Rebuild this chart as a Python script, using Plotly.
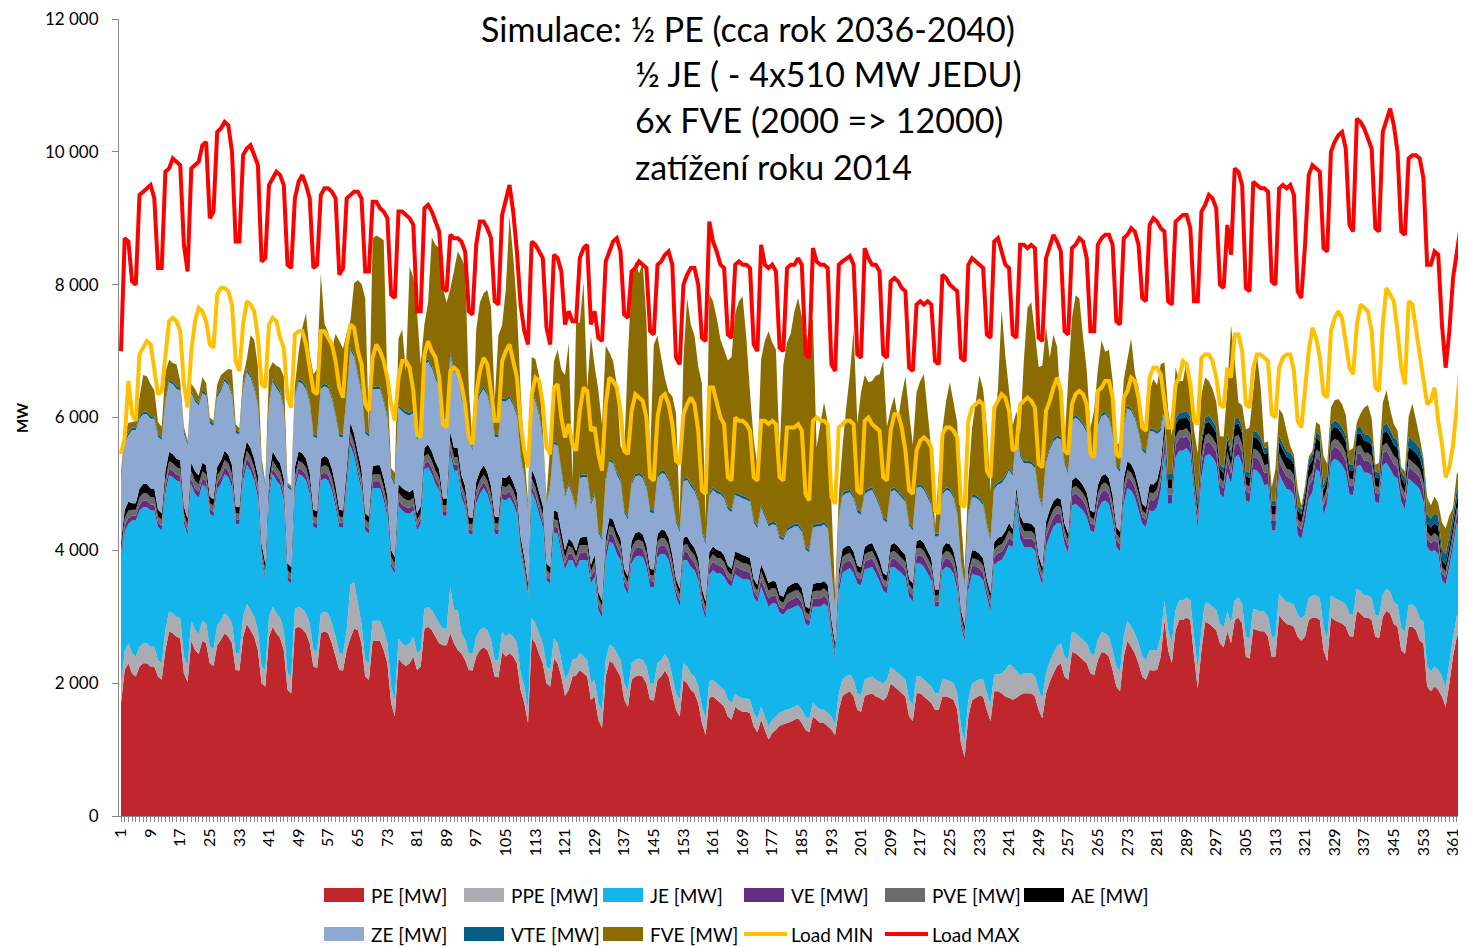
import plotly.graph_objects as go

days = list(range(1, 366))

# --- daily values (MW), one calendar week per row (Mon..Sun) ---
pe = [
    1700, 2200, 2300, 2150, 2100,
    2250, 2300, 2300, 2250, 2250, 2100, 2050,
    2500, 2780, 2750, 2700, 2680, 2150, 2020,
    2640, 2500, 2440, 2640, 2600, 2300, 2260,
    2570, 2650, 2750, 2700, 2600, 2200, 2190,
    2700, 2890, 2800, 2700, 2500, 2000, 1950,
    2700, 2850, 2750, 2680, 2500, 1900, 1850,
    2820, 2850, 2820, 2750, 2600, 2250, 2230,
    2750, 2780, 2750, 2600, 2400, 2200, 2190,
    2500, 2680, 2820, 2800, 2600, 2100, 2050,
    2640, 2640, 2640, 2500, 2300, 1700, 1500,
    2370, 2300, 2260, 2300, 2400, 2200, 2250,
    2820, 2850, 2800, 2700, 2600, 2570, 2570,
    2750, 2600, 2500, 2450, 2350, 2200, 2190,
    2400, 2500, 2540, 2500, 2350, 2100, 2090,
    2470, 2400, 2450, 2400, 2300, 1900, 1700,
    1400, 2680, 2600, 2440, 2300, 2000, 1950,
    2370, 2300, 2100, 1810, 1900, 2100, 2120,
    2200, 2150, 2100, 1750, 1800, 1450, 1330,
    2100, 2330, 2300, 2200, 2100, 1750, 1640,
    2050, 2100, 2120, 2100, 2000, 1750, 1740,
    2050, 2100, 2190, 2100, 1850, 1600, 1500,
    2050, 2000, 1900, 1850, 1700, 1400, 1220,
    1780, 1800, 1750, 1700, 1650, 1500, 1450,
    1640, 1600, 1570, 1570, 1550, 1350, 1260,
    1450, 1300, 1150, 1250, 1300, 1360, 1380,
    1400, 1420, 1450, 1470, 1400, 1300, 1260,
    1500, 1450, 1400, 1400, 1350, 1300, 1220,
    1600, 1810, 1850, 1880, 1800, 1600, 1570,
    1810, 1830, 1850, 1800, 1780, 1740, 1800,
    1990, 1950, 1900, 1850, 1800, 1500, 1430,
    1850, 1850, 1800, 1750, 1700, 1600, 1600,
    1800, 1800, 1780, 1750, 1600, 1100, 880,
    1500, 1740, 1780, 1810, 1800, 1600, 1430,
    1880, 1880, 1850, 1800, 1780, 1750, 1780,
    1820, 1850, 1850, 1850, 1800, 1600, 1470,
    1850, 2020, 2150, 2260, 2300, 2100, 2050,
    2470, 2450, 2400, 2350, 2300, 2150, 2120,
    2350, 2470, 2450, 2400, 2200, 1950, 1880,
    2400, 2640, 2550, 2450, 2300, 2100, 2050,
    2200, 2190, 2200, 2400, 2950, 2500, 2300,
    2800, 2950, 2950, 2990, 2950, 2400, 1920,
    2500, 2920, 2900, 2850, 2800, 2600, 2540,
    2780, 2600, 2950, 2990, 2900, 2400, 2370,
    2820, 2800, 2780, 2780, 2700, 2400, 2400,
    3020, 2950, 2890, 2880, 2850, 2700, 2640,
    2700, 2950, 2990, 2990, 2950, 2500, 2330,
    2990, 2950, 2920, 2900, 2850, 2710, 2700,
    3090, 3050, 2990, 2990, 2950, 2700, 2680,
    3000, 3090, 3050, 2890, 2850, 2500, 2440,
    2850, 2850, 2800, 2640, 2600, 1950, 1880,
    1950, 1900, 1800, 1640, 2000, 2400, 2700,
    2820, 2900, 2950,
]

ppe = [
    250, 280, 300, 300, 300,
    300, 300, 300, 300, 300, 250, 250,
    300, 300, 300, 300, 300, 250, 250,
    300, 300, 300, 300, 300, 250, 250,
    300, 300, 300, 300, 300, 250, 250,
    300, 300, 300, 300, 300, 250, 250,
    300, 300, 300, 300, 300, 250, 250,
    300, 300, 300, 300, 300, 250, 250,
    300, 300, 300, 300, 300, 250, 250,
    300, 800, 700, 400, 300, 250, 250,
    300, 300, 300, 300, 300, 250, 250,
    300, 300, 300, 300, 300, 250, 250,
    300, 300, 300, 300, 300, 250, 250,
    700, 500, 600, 300, 300, 250, 250,
    300, 300, 300, 300, 300, 250, 250,
    300, 300, 300, 300, 300, 250, 250,
    200, 300, 300, 300, 300, 250, 250,
    300, 300, 250, 250, 250, 250, 250,
    250, 250, 250, 250, 250, 250, 250,
    250, 250, 250, 250, 250, 250, 250,
    250, 250, 250, 250, 250, 250, 250,
    250, 250, 250, 250, 250, 250, 250,
    250, 250, 250, 250, 250, 250, 250,
    250, 250, 250, 250, 250, 250, 250,
    200, 200, 200, 200, 200, 200, 200,
    200, 200, 200, 200, 200, 200, 200,
    200, 200, 200, 200, 200, 200, 200,
    200, 200, 200, 200, 200, 200, 150,
    250, 250, 250, 250, 250, 250, 250,
    250, 250, 250, 250, 250, 250, 250,
    250, 250, 250, 250, 250, 250, 250,
    250, 250, 250, 250, 250, 250, 250,
    250, 250, 250, 250, 250, 250, 250,
    250, 250, 250, 250, 250, 250, 250,
    250, 250, 300, 400, 500, 500, 400,
    300, 300, 300, 300, 300, 300, 300,
    300, 300, 300, 300, 300, 300, 300,
    300, 300, 300, 300, 300, 300, 300,
    300, 300, 300, 300, 300, 300, 300,
    300, 300, 300, 300, 300, 300, 300,
    300, 300, 300, 300, 300, 300, 300,
    300, 300, 300, 300, 300, 300, 300,
    300, 300, 300, 300, 300, 300, 300,
    300, 300, 300, 300, 300, 300, 300,
    300, 300, 300, 300, 300, 300, 300,
    330, 330, 330, 330, 330, 330, 330,
    330, 330, 330, 330, 330, 330, 330,
    330, 330, 330, 330, 330, 330, 330,
    330, 330, 330, 330, 330, 330, 330,
    330, 330, 330, 330, 330, 330, 330,
    330, 330, 330, 330, 330, 300, 300,
    300, 300, 300, 300, 300, 300, 300,
    300, 300, 300,
]

je = [
    1900, 1800, 1800, 2000, 2050,
    2050, 2050, 2050, 2050, 2050, 2000, 2000,
    2050, 2050, 2050, 2050, 2050, 2000, 1950,
    2050, 2050, 2050, 2050, 2050, 2000, 2000,
    2050, 2050, 2100, 2100, 2050, 1950, 1950,
    2050, 2100, 2100, 2050, 2000, 1600, 1350,
    1800, 2000, 2000, 2000, 1950, 1400, 1400,
    1800, 2000, 2000, 2000, 1950, 1850, 1850,
    2000, 2000, 2000, 2000, 1950, 1900, 1900,
    2100, 2100, 1900, 1950, 2000, 1950, 1950,
    2000, 2000, 2000, 1950, 1900, 1800, 1900,
    2000, 2000, 2000, 1950, 1900, 1850, 1900,
    2100, 2100, 2050, 2000, 2000, 1700, 1700,
    2000, 2100, 2100, 2050, 2000, 1800, 1800,
    2000, 2050, 2100, 2050, 2000, 1900, 1900,
    2000, 2050, 2050, 2000, 1950, 1800, 1700,
    1650, 1900, 1850, 1800, 1750, 1300, 1300,
    1600, 1650, 1600, 1650, 1700, 1500, 1350,
    1400, 1450, 1500, 1500, 1550, 1400, 1400,
    1500, 1550, 1550, 1500, 1500, 1450, 1450,
    1500, 1550, 1550, 1550, 1500, 1450, 1450,
    1600, 1600, 1500, 1500, 1500, 1450, 1400,
    1550, 1600, 1600, 1600, 1600, 1500, 1500,
    1600, 1650, 1650, 1700, 1700, 1750, 1750,
    1800, 1800, 1800, 1800, 1800, 1750, 1750,
    1800, 1800, 1800, 1750, 1700, 1500, 1450,
    1500, 1500, 1500, 1500, 1500, 1400, 1400,
    1450, 1500, 1550, 1600, 1600, 1200, 1000,
    1500, 1600, 1600, 1600, 1600, 1650, 1650,
    1650, 1650, 1650, 1600, 1500, 1400, 1300,
    1500, 1550, 1550, 1550, 1550, 1550, 1550,
    1700, 1700, 1700, 1650, 1600, 1300, 1300,
    1650, 1700, 1700, 1650, 1550, 1500, 1500,
    1650, 1650, 1600, 1550, 1500, 1450, 1400,
    1650, 1700, 1700, 1750, 1800, 1800, 2500,
    2050, 1900, 1900, 1900, 1900, 1750, 1700,
    1900, 1900, 1900, 1850, 1800, 1700, 1600,
    1900, 1950, 1950, 1950, 1900, 1850, 1850,
    1950, 1950, 2000, 2000, 1950, 1800, 1800,
    2000, 2000, 2050, 2050, 2000, 2000, 2000,
    2100, 2100, 2150, 2200, 2200, 1900, 2100,
    2300, 2250, 2250, 2250, 2200, 2150, 2100,
    2300, 2200, 2250, 2250, 2200, 1950, 1950,
    2100, 2100, 2150, 2150, 2100, 2050, 2050,
    2100, 2100, 2050, 1900, 2000, 1600, 1600,
    1800, 1750, 1700, 1700, 1650, 1200, 1200,
    1400, 1500, 1550, 1900, 1900, 1700, 2050,
    2000, 2100, 2100, 2050, 2000, 1800, 1800,
    1850, 1900, 1850, 1850, 1850, 1700, 1700,
    1950, 1900, 1850, 1900, 1900, 1900, 1850,
    1900, 1850, 1850, 1950, 1800, 1800, 1800,
    1750, 1750, 1450, 1550, 1450, 1350, 1400,
    1300, 1250, 1300,
]

ve = [
    70, 90, 90, 70, 70,
    90, 100, 100, 90, 90, 70, 70,
    100, 100, 100, 90, 90, 70, 70,
    90, 90, 90, 90, 90, 70, 70,
    100, 100, 100, 100, 90, 70, 70,
    90, 100, 100, 90, 90, 60, 60,
    90, 90, 90, 90, 90, 60, 60,
    90, 90, 90, 90, 80, 70, 70,
    90, 90, 90, 90, 80, 70, 70,
    90, 90, 90, 90, 80, 70, 70,
    90, 90, 90, 90, 80, 60, 60,
    90, 90, 90, 90, 80, 70, 70,
    90, 90, 90, 90, 80, 70, 70,
    90, 90, 90, 90, 80, 60, 60,
    90, 90, 90, 90, 80, 70, 70,
    90, 90, 90, 90, 80, 60, 60,
    60, 90, 90, 90, 80, 60, 60,
    90, 90, 90, 90, 110, 90, 90,
    120, 120, 120, 90, 110, 90, 90,
    120, 130, 130, 120, 110, 90, 90,
    120, 130, 130, 120, 110, 90, 90,
    120, 130, 130, 120, 110, 90, 90,
    120, 130, 130, 120, 110, 90, 80,
    120, 130, 130, 120, 110, 90, 90,
    120, 130, 130, 120, 110, 90, 90,
    120, 130, 130, 120, 110, 90, 90,
    120, 130, 130, 120, 110, 80, 80,
    120, 130, 130, 120, 110, 80, 70,
    120, 130, 130, 120, 110, 90, 90,
    120, 130, 130, 120, 110, 90, 90,
    120, 130, 130, 120, 110, 90, 90,
    120, 130, 130, 120, 110, 80, 80,
    120, 130, 130, 120, 110, 80, 70,
    120, 130, 130, 120, 110, 90, 90,
    120, 130, 130, 120, 110, 90, 90,
    130, 130, 130, 130, 120, 90, 90,
    150, 150, 150, 150, 140, 110, 110,
    150, 160, 160, 150, 140, 110, 110,
    150, 160, 160, 150, 140, 110, 110,
    150, 160, 160, 150, 140, 110, 110,
    160, 160, 160, 160, 180, 140, 140,
    190, 190, 190, 180, 180, 140, 130,
    190, 190, 190, 180, 180, 140, 140,
    190, 150, 190, 180, 180, 140, 140,
    190, 190, 190, 180, 180, 140, 140,
    190, 190, 190, 180, 180, 140, 140,
    150, 190, 190, 180, 180, 140, 140,
    180, 180, 180, 180, 170, 140, 140,
    180, 180, 180, 180, 170, 140, 140,
    180, 180, 180, 180, 170, 140, 140,
    180, 180, 180, 180, 170, 130, 130,
    150, 150, 110, 100, 110, 120, 130,
    150, 150, 150,
]

pve = [
    90, 110, 110, 90, 90,
    110, 110, 110, 110, 110, 90, 90,
    110, 110, 110, 110, 110, 90, 90,
    110, 110, 110, 110, 110, 90, 90,
    110, 110, 110, 110, 110, 90, 90,
    110, 110, 110, 110, 110, 90, 90,
    110, 110, 110, 110, 110, 90, 90,
    110, 110, 110, 110, 110, 90, 90,
    110, 110, 110, 110, 110, 90, 90,
    110, 110, 110, 110, 110, 90, 90,
    110, 110, 110, 110, 110, 90, 90,
    110, 110, 110, 110, 110, 90, 90,
    110, 110, 110, 110, 110, 90, 90,
    110, 110, 110, 110, 110, 90, 90,
    110, 110, 110, 110, 110, 90, 90,
    110, 110, 110, 110, 110, 90, 90,
    90, 110, 110, 110, 110, 90, 90,
    110, 110, 110, 90, 110, 90, 90,
    110, 110, 110, 90, 110, 90, 90,
    110, 110, 110, 110, 110, 90, 90,
    110, 110, 110, 110, 110, 90, 90,
    110, 110, 110, 110, 110, 90, 90,
    110, 110, 110, 110, 110, 90, 90,
    110, 110, 110, 110, 110, 90, 90,
    110, 110, 110, 110, 110, 90, 90,
    110, 110, 110, 110, 110, 90, 90,
    110, 110, 110, 110, 110, 90, 90,
    110, 110, 110, 110, 110, 90, 80,
    110, 110, 110, 110, 110, 90, 90,
    110, 110, 110, 110, 110, 90, 90,
    110, 110, 110, 110, 110, 90, 90,
    110, 110, 110, 110, 110, 90, 90,
    110, 110, 110, 110, 110, 90, 80,
    110, 110, 110, 110, 110, 90, 90,
    110, 110, 110, 110, 110, 90, 90,
    110, 110, 110, 110, 110, 90, 90,
    110, 110, 110, 110, 110, 90, 90,
    110, 110, 110, 110, 110, 90, 90,
    110, 110, 110, 110, 110, 90, 90,
    110, 110, 110, 110, 110, 90, 90,
    110, 110, 110, 110, 120, 100, 100,
    120, 120, 120, 120, 120, 100, 100,
    120, 120, 120, 120, 120, 100, 100,
    120, 110, 120, 120, 120, 100, 100,
    120, 120, 120, 120, 120, 100, 100,
    120, 120, 120, 120, 120, 100, 100,
    110, 120, 120, 120, 120, 100, 100,
    120, 120, 120, 120, 120, 100, 100,
    120, 120, 120, 120, 120, 100, 100,
    120, 120, 120, 120, 120, 100, 100,
    120, 120, 120, 120, 120, 100, 100,
    110, 110, 90, 90, 90, 100, 100,
    120, 120, 120,
]

ae = [
    100, 130, 130, 100, 100,
    130, 140, 140, 130, 130, 100, 100,
    130, 140, 140, 130, 130, 100, 100,
    130, 140, 140, 130, 130, 100, 100,
    130, 140, 140, 130, 130, 100, 100,
    130, 140, 140, 130, 130, 100, 100,
    130, 140, 140, 130, 130, 100, 100,
    130, 140, 140, 130, 130, 100, 100,
    130, 140, 140, 130, 130, 100, 100,
    130, 140, 140, 130, 130, 100, 100,
    130, 140, 140, 130, 130, 100, 100,
    130, 140, 140, 130, 130, 100, 100,
    130, 140, 140, 130, 130, 100, 100,
    130, 140, 140, 130, 130, 100, 100,
    130, 140, 140, 130, 130, 100, 100,
    130, 140, 140, 130, 130, 100, 100,
    100, 140, 140, 130, 130, 100, 100,
    130, 130, 130, 110, 110, 90, 90,
    110, 120, 120, 100, 110, 90, 90,
    110, 120, 120, 110, 110, 90, 90,
    110, 120, 120, 110, 110, 90, 90,
    110, 120, 120, 110, 110, 90, 90,
    110, 120, 120, 110, 110, 90, 90,
    110, 120, 120, 110, 110, 90, 90,
    110, 120, 120, 110, 110, 90, 90,
    110, 120, 120, 110, 110, 90, 90,
    110, 120, 120, 110, 110, 90, 90,
    110, 120, 120, 110, 110, 90, 80,
    110, 120, 120, 110, 110, 90, 90,
    110, 120, 120, 110, 110, 90, 90,
    110, 120, 120, 110, 110, 90, 90,
    110, 120, 120, 110, 110, 90, 90,
    110, 120, 120, 110, 110, 90, 80,
    110, 120, 120, 110, 110, 90, 90,
    110, 120, 120, 110, 110, 90, 90,
    110, 120, 120, 110, 110, 90, 90,
    120, 130, 130, 120, 120, 100, 100,
    120, 130, 130, 120, 120, 100, 100,
    120, 130, 130, 120, 120, 100, 100,
    120, 130, 130, 120, 120, 100, 100,
    130, 130, 130, 130, 170, 130, 130,
    180, 180, 180, 170, 170, 130, 130,
    180, 180, 180, 170, 170, 130, 130,
    180, 140, 180, 170, 170, 130, 130,
    180, 180, 180, 170, 170, 130, 130,
    180, 180, 180, 170, 170, 130, 130,
    140, 180, 180, 170, 170, 130, 130,
    180, 180, 180, 170, 170, 130, 130,
    180, 180, 180, 170, 170, 130, 130,
    180, 180, 180, 170, 170, 130, 130,
    180, 180, 180, 170, 170, 130, 130,
    150, 150, 110, 100, 110, 120, 130,
    160, 160, 160,
]

ze = [
    1000, 1000, 1000, 1100, 1100,
    1050, 1050, 1050, 1050, 1050, 1100, 1100,
    1050, 1050, 1050, 1050, 1050, 1100, 1100,
    1050, 1050, 1050, 1050, 1050, 1100, 1100,
    1050, 1050, 1050, 1050, 1050, 1100, 1100,
    1050, 1050, 1050, 1050, 1050, 1150, 1150,
    1050, 1050, 1050, 1050, 1050, 1150, 1150,
    1050, 1050, 1050, 1050, 1050, 1100, 1100,
    1050, 1050, 1050, 1050, 1050, 1100, 1100,
    1100, 1100, 1150, 1150, 1150, 1200, 1200,
    1150, 1150, 1150, 1150, 1150, 1100, 1080,
    1150, 1150, 1150, 1150, 1150, 1100, 1100,
    1250, 1250, 1250, 1250, 1250, 1200, 1200,
    1150, 1150, 1150, 1150, 1150, 1200, 1000,
    1150, 1150, 1150, 1150, 1150, 1200, 1200,
    1150, 1150, 1150, 1150, 1150, 1200, 1200,
    1100, 1150, 1150, 1150, 1000, 900, 1200,
    1000, 1000, 900, 800, 800, 700, 600,
    900, 900, 900, 900, 900, 900, 900,
    850, 850, 850, 850, 850, 850, 850,
    850, 850, 850, 850, 850, 850, 850,
    850, 850, 850, 850, 850, 850, 850,
    850, 850, 850, 850, 850, 850, 850,
    850, 850, 850, 850, 850, 850, 850,
    850, 850, 850, 850, 850, 850, 850,
    850, 850, 850, 850, 850, 850, 850,
    850, 850, 850, 850, 850, 850, 850,
    850, 850, 850, 850, 850, 700, 500,
    800, 800, 800, 800, 800, 800, 800,
    800, 800, 800, 800, 800, 800, 800,
    800, 800, 800, 800, 800, 800, 800,
    800, 800, 800, 800, 800, 800, 800,
    800, 800, 800, 800, 800, 700, 600,
    800, 800, 800, 800, 800, 800, 800,
    800, 800, 800, 800, 800, 800, 800,
    900, 900, 900, 900, 900, 900, 900,
    900, 900, 900, 900, 900, 900, 900,
    900, 900, 900, 900, 900, 900, 900,
    900, 900, 900, 900, 900, 900, 900,
    800, 800, 800, 800, 800, 800, 800,
    800, 800, 700, 500, 200, 0, 0,
    0, 0, 0, 0, 0, 0, 0,
    0, 0, 0, 0, 0, 0, 0,
    0, 0, 0, 0, 0, 0, 0,
    0, 0, 0, 0, 0, 0, 0,
    0, 0, 0, 0, 0, 0, 0,
    0, 0, 0, 0, 0, 0, 0,
    0, 0, 0, 0, 0, 0, 0,
    0, 0, 0, 0, 0, 0, 0,
    0, 0, 0, 0, 0, 0, 0,
    0, 0, 0, 0, 0, 0, 0,
    0, 0, 0, 0, 0, 0, 0,
    0, 0, 0,
]

vte = [
    40, 40, 40, 40, 40,
    40, 40, 40, 40, 40, 40, 40,
    40, 40, 40, 40, 40, 40, 40,
    40, 40, 40, 40, 40, 40, 40,
    40, 40, 40, 40, 40, 40, 40,
    40, 40, 40, 40, 40, 40, 40,
    40, 40, 40, 40, 40, 40, 40,
    40, 40, 40, 40, 40, 40, 40,
    40, 40, 40, 40, 40, 40, 40,
    40, 40, 40, 40, 40, 40, 40,
    40, 40, 40, 40, 40, 40, 40,
    40, 40, 40, 40, 40, 40, 40,
    40, 40, 40, 40, 40, 40, 40,
    40, 40, 40, 40, 40, 40, 40,
    40, 40, 40, 40, 40, 40, 40,
    40, 40, 40, 40, 40, 40, 40,
    40, 40, 40, 40, 40, 40, 40,
    40, 40, 40, 40, 40, 40, 40,
    40, 40, 40, 40, 40, 40, 40,
    40, 40, 40, 40, 40, 40, 40,
    40, 40, 40, 40, 40, 40, 40,
    40, 40, 40, 40, 40, 40, 40,
    40, 40, 40, 40, 40, 40, 40,
    40, 40, 40, 40, 40, 40, 40,
    40, 40, 40, 40, 40, 40, 40,
    40, 40, 40, 40, 40, 40, 40,
    40, 40, 40, 40, 40, 40, 40,
    40, 40, 40, 40, 40, 40, 40,
    40, 40, 40, 40, 40, 40, 40,
    40, 40, 40, 40, 40, 40, 40,
    40, 40, 40, 40, 40, 40, 40,
    40, 40, 40, 40, 40, 40, 40,
    40, 40, 40, 40, 40, 40, 40,
    40, 40, 40, 40, 40, 40, 40,
    40, 40, 40, 40, 40, 40, 40,
    40, 40, 40, 40, 40, 40, 40,
    40, 40, 40, 40, 40, 40, 40,
    40, 40, 40, 40, 40, 40, 40,
    40, 40, 40, 40, 40, 40, 40,
    40, 40, 40, 40, 40, 40, 40,
    40, 40, 40, 50, 90, 80, 80,
    90, 90, 90, 90, 90, 80, 80,
    90, 90, 90, 90, 90, 80, 80,
    90, 90, 90, 90, 90, 80, 80,
    90, 90, 90, 90, 90, 80, 80,
    90, 90, 90, 90, 90, 80, 80,
    90, 90, 90, 90, 90, 80, 80,
    100, 100, 100, 100, 100, 90, 90,
    100, 100, 100, 100, 100, 90, 90,
    110, 110, 110, 110, 110, 100, 100,
    150, 150, 150, 150, 150, 140, 140,
    150, 150, 160, 160, 160, 150, 150,
    150, 150, 150,
]

fve = [
    50, 100, 150, 80, 100,
    280, 550, 530, 480, 390, 180, 160,
    400, 300, 280, 330, 100, 60, 30,
    100, 150, 100, 200, 150, 50, 40,
    150, 200, 100, 200, 350, 100, 50,
    150, 150, 600, 700, 550, 100, 30,
    500, 250, 300, 350, 450, 30, 30,
    150, 400, 800, 1100, 700, 900, 1000,
    1700, 900, 800, 700, 1200, 1400, 1300,
    900, 400, 1070, 1400, 1600, 2000, 50,
    2240, 2270, 2240, 2400, 500, 100, 150,
    1000, 1200, 600, 2200, 2000, 1900, 1000,
    560, 860, 1930, 1980, 2040, 1920, 1710,
    970, 1480, 1770, 2080, 2110, 680, 90,
    1100, 1350, 1400, 1550, 1500, 500, 1500,
    1100, 1650, 2700, 2200, 1600, 950, 300,
    100, 500, 600, 560, 100, 50, 600,
    1200, 1400, 1500, 1800, 2100, 200, 2800,
    2300, 2900, 1300, 2500, 1900, 2100, 1700,
    2000, 1600, 1500, 1300, 500, 840, 2450,
    3000, 3200, 3000, 3200, 2500, 800, 2500,
    2100, 1700, 1400, 1300, 1500, 1600, 200,
    1800, 2700, 2400, 2300, 2000, 2200, 300,
    3000, 2800, 2600, 2300, 2200, 2200, 2300,
    2700, 2900, 3000, 2400, 1600, 1200, 900,
    2200, 2600, 2900, 2700, 2600, 1250, 2600,
    2800, 2900, 3200, 3400, 3200, 2900, 3400,
    3100, 1150, 1500, 1800, 1550, 1000, 200,
    300, 700, 1250, 1750, 2500, 1300, 1800,
    1750, 1600, 1600, 1800, 1950, 2350, 1400,
    1200, 1370, 1070, 1500, 1850, 1650, 1250,
    1400, 1550, 1700, 1250, 800, 100, 900,
    930, 1300, 1600, 1400, 1350, 650, 200,
    450, 1000, 1400, 1850, 1700, 1450, 700,
    850, 1400, 2580, 1800, 1160, 720, 300,
    300, 1500, 2300, 2400, 2000, 1900, 2100,
    2000, 1350, 1570, 1330, 400, 250, 1400,
    1500, 1800, 1800, 1300, 900, 300, 600,
    800, 1100, 900, 1000, 800, 300, 400,
    650, 700, 1050, 650, 650, 450, 350,
    550, 750, 700, 950, 620, 970, 570,
    770, 470, 470, 760, 520, 520, 700,
    670, 600, 520, 470, 380, 420, 470,
    690, 1900, 870, 230, 320, 620, 680,
    600, 1170, 740, 80, 80, 200, 470,
    400, 440, 300, 100, 50, 250, 50,
    50, 50, 50, 150, 150, 440, 140,
    250, 300, 350, 350, 300, 200, 250,
    80, 200, 400, 450, 300, 100, 150,
    350, 500, 300, 200, 150, 50, 100,
    300, 550, 350, 150, 50, 250, 200,
    250, 200, 400, 390, 300, 100, 240,
    220, 100, 100,
]

load_min = [
    5450, 5700, 6550, 6050, 5950,
    6950, 7050, 7150, 7100, 6700, 6350, 6400,
    7000, 7450, 7500, 7450, 7300, 6500, 6150,
    7000, 7450, 7650, 7600, 7450, 7100, 7050,
    7850, 7950, 7950, 7900, 7700, 6850, 6700,
    7400, 7750, 7700, 7600, 7200, 6500, 6450,
    7400, 7500, 7450, 7200, 7050, 6300, 6150,
    7250, 7300, 7300, 7100, 6750, 6400, 6350,
    7300, 7300, 7200, 7100, 6850, 6450, 6300,
    7100, 7400, 7350, 7000, 6800, 6200, 6100,
    6900, 7100, 7000, 6850, 6600, 6200, 5950,
    6600, 6850, 6850, 6750, 6400, 5750, 5700,
    6950, 7150, 7000, 6900, 6600, 5900, 5850,
    6700, 6750, 6700, 6500, 6200, 5700, 5600,
    6350, 6700, 6900, 6800, 6400, 5950, 5950,
    6850, 7000, 7100, 6850, 6600, 5900, 5500,
    5250, 6350, 6600, 6550, 6200, 5550, 5450,
    6450, 6500, 6000, 5700, 5900, 5600, 5500,
    6100, 6450, 6400, 5800, 5850, 5450, 5200,
    6200, 6600, 6550, 6450, 6100, 5500, 5450,
    6100, 6350, 6300, 6250, 6000, 5100, 5050,
    6000, 6300, 6350, 6200, 5900, 5350, 5300,
    6050, 6200, 6300, 6200, 5800, 4900, 4850,
    6450, 6450, 6250, 6000, 5900, 5100, 5050,
    6000, 5950, 5950, 5900, 5800, 5100, 5050,
    5950, 5950, 5900, 5950, 5900, 5100, 5050,
    5850, 5850, 5850, 5900, 5800, 4850, 4750,
    5950, 6000, 5950, 5950, 5900, 4800, 4700,
    5850, 5900, 5950, 5950, 5900, 4900, 4850,
    5950, 6000, 5900, 5850, 5800, 5100, 5050,
    5800, 6050, 6050, 5850, 5500, 4900, 4850,
    5500, 5650, 5700, 5650, 5550, 4600, 4550,
    5750, 5850, 5850, 5800, 5700, 4700, 4650,
    5950, 6150, 6200, 6250, 6200, 5200, 5100,
    6150, 6250, 6350, 6300, 6100, 5500, 5550,
    6200, 6250, 6300, 6250, 6150, 5300, 5250,
    6100, 6250, 6450, 6600, 6400, 5500, 5450,
    6200, 6350, 6400, 6350, 6200, 5450, 5400,
    6400, 6450, 6550, 6550, 6300, 5450, 5400,
    6300, 6400, 6600, 6550, 6300, 5850, 5800,
    6600, 6750, 6750, 6650, 6250, 5850, 5850,
    6500, 6600, 6850, 6800, 6500, 5950, 5900,
    6900, 6950, 6950, 6850, 6600, 6200, 6150,
    6750, 6600, 7250, 7250, 7000, 6200, 6150,
    6750, 6950, 6950, 6900, 6850, 6050, 6000,
    6750, 6900, 6950, 6950, 6700, 5950, 5850,
    6400, 7000, 7350, 7200, 6900, 6350, 6300,
    7300, 7500, 7600, 7500, 7150, 6750, 6650,
    7400, 7700, 7650, 7600, 7300, 6450, 6400,
    7400, 7950, 7850, 7750, 7300, 6750, 6500,
    7750, 7700, 7300, 6900, 6600, 6200, 6250,
    6450, 5950, 5600, 5100, 5250, 5580, 6200,
    6750, 6850, 6900,
]

load_max = [
    7000, 8700, 8650, 8050, 8000,
    9350, 9400, 9450, 9500, 9300, 8250, 8250,
    9700, 9750, 9900, 9850, 9800, 8600, 8200,
    9750, 9800, 9850, 10100, 10150, 9000, 9100,
    10300, 10350, 10450, 10400, 10000, 8650, 8650,
    9950, 10050, 10100, 9950, 9800, 8350, 8400,
    9500, 9600, 9700, 9650, 9500, 8300, 8250,
    9300, 9550, 9650, 9500, 9300, 8250, 8300,
    9350, 9450, 9450, 9400, 9300, 8150, 8250,
    9300, 9350, 9400, 9400, 9300, 8200, 8200,
    9250, 9250, 9150, 9100, 9000, 7850, 7800,
    9100, 9100, 9050, 9000, 8900, 7600, 7600,
    9150, 9200, 9100, 8950, 8800, 7950, 7900,
    8750, 8700, 8700, 8650, 8500, 7600, 7550,
    8600, 8950, 8950, 8850, 8700, 7750, 7700,
    9050, 9300, 9500, 9100, 8500, 7700, 7300,
    7100, 8650, 8600, 8500, 8400, 7350, 7100,
    8450, 8400, 8200, 7400, 7600, 7450, 7450,
    8400, 8550, 8600, 7400, 7600, 7200, 7150,
    8350, 8500, 8650, 8700, 8500, 7550, 7500,
    8200, 8250, 8350, 8300, 8250, 7300, 7250,
    8300, 8350, 8450, 8500, 8300, 6900, 6800,
    8000, 8150, 8250, 8250, 8000, 7200, 7150,
    8950, 8650, 8500, 8300, 8250, 7250, 7200,
    8300, 8350, 8300, 8300, 8250, 7100, 7000,
    8600, 8300, 8250, 8300, 8200, 7050, 7000,
    8250, 8300, 8300, 8400, 8300, 6950, 6900,
    8550, 8350, 8300, 8300, 8250, 6800, 6700,
    8300, 8350, 8400, 8430, 8300, 6950, 6900,
    8550, 8400, 8300, 8300, 8200, 6950, 6900,
    8050, 8100, 8050, 7950, 7900, 6750, 6700,
    7700, 7750, 7700, 7750, 7700, 6850, 6800,
    8150, 8100, 8000, 7950, 7900, 6900, 6850,
    8300, 8400, 8350, 8300, 8250, 7250, 7200,
    8650, 8700, 8500, 8300, 8250, 7250, 7200,
    8600, 8600, 8550, 8600, 8550, 7200, 7150,
    8400, 8600, 8750, 8650, 8500, 7300, 7250,
    8550, 8600, 8700, 8650, 8400, 7300, 7300,
    8600, 8700, 8750, 8750, 8600, 7450, 7400,
    8700, 8750, 8850, 8800, 8600, 7800, 7750,
    8900, 9000, 8950, 8850, 8800, 7750, 7700,
    8950, 9000, 9050, 9050, 8850, 7750, 7750,
    9100, 9200, 9350, 9300, 9150, 8000, 7950,
    8900, 8450, 9750, 9700, 9500, 7950, 7900,
    9550, 9500, 9450, 9450, 9400, 8050, 8000,
    9450, 9500, 9450, 9500, 9350, 7900, 7800,
    8600, 9650, 9800, 9750, 9700, 8550, 8500,
    10000, 10150, 10250, 10300, 10050, 8900, 8800,
    10500, 10450, 10350, 10200, 10050, 8850, 8800,
    10300, 10500, 10650, 10400, 10000, 8800, 8750,
    9900, 9950, 9950, 9900, 9600, 8300, 8300,
    8500, 8450, 7400, 6750, 7300, 8100, 8500,
    8850, 8800, 8700,
]

tick_days = list(range(1, 362, 8))
y_ticks = [0, 2000, 4000, 6000, 8000, 10000, 12000]
y_labels = ["0", "2 000", "4 000", "6 000", "8 000", "10 000", "12 000"]

title_lines = [
    "Simulace: ½ PE (cca rok 2036-2040)",
    "½ JE ( - 4x510 MW JEDU)",
    "6x FVE (2000 => 12000)",
    "zatížení roku 2014",
]

# stacked from the bottom up
areas = [
    ("PE [MW]", pe, "#C0272D"),
    ("PPE [MW]", ppe, "#ABACB1"),
    ("JE [MW]", je, "#13B5EA"),
    ("VE [MW]", ve, "#632E82"),
    ("PVE [MW]", pve, "#6B6B6B"),
    ("AE [MW]", ae, "#000000"),
    ("ZE [MW]", ze, "#8EA9D1"),
    ("VTE [MW]", vte, "#045D85"),
    ("FVE [MW]", fve, "#8B6C00"),
]
lines = [
    ("Load MIN", load_min, "#FFC000"),
    ("Load MAX", load_max, "#FF0000"),
]

for name, vals, _ in areas + lines:
    assert len(vals) == 365, (name, len(vals))

FONT = "Lato, 'Open Sans', sans-serif"
# the page puts the figure 8px in from the top-left corner
OFF = 8
W, H = 1466 - OFF, 947 - OFF
PL, PT, PR, PB = 119, 19, 1466, 816   # plot area, in window pixels


def px(x):
    return (x - PL) / (PR - PL)


def py(y):
    return (PB - y) / (PB - PT)


fig = go.Figure()
for name, vals, color in areas:
    fig.add_trace(go.Scatter(x=days, y=vals, name=name, stackgroup="gen",
                             mode="none", fillcolor=color, showlegend=False))
for name, vals, color in lines:
    fig.add_trace(go.Scatter(x=days, y=vals, name=name, mode="lines",
                             line=dict(color=color, width=4), showlegend=False))

# title block
annotations = [dict(x=px(479), y=py(28), xref="paper", yref="paper",
                    text=title_lines[0], showarrow=False, xanchor="left",
                    yanchor="middle", font=dict(size=34, color="black"))]
for i, t in enumerate(title_lines[1:]):
    annotations.append(dict(x=px(633), y=py(74 + 46 * i), xref="paper", yref="paper",
                            text=t, showarrow=False, xanchor="left",
                            yanchor="middle", font=dict(size=34, color="black")))

annotations.append(dict(x=px(22), y=py(418), xref="paper", yref="paper", text="<b>MW</b>",
                        textangle=-90, showarrow=False, xanchor="center", yanchor="middle",
                        font=dict(size=15, color="black")))

# legend in two rows, drawn like the Excel one
shapes = []
cols = [324, 464, 603, 744, 885, 1024]
legend_items = [(n, c, "box") for n, _, c in areas] + [(n, c, "line") for n, _, c in lines]
for i, (name, color, kind) in enumerate(legend_items):
    row, col = divmod(i, 6)
    x0 = cols[col]
    yc = 895 + 39 * row
    if kind == "box":
        shapes.append(dict(type="rect", xref="paper", yref="paper",
                           x0=px(x0), x1=px(x0 + 40), y0=py(yc + 7), y1=py(yc - 7),
                           fillcolor=color, line=dict(width=0)))
    else:
        shapes.append(dict(type="line", xref="paper", yref="paper",
                           x0=px(x0), x1=px(x0 + 43), y0=py(yc), y1=py(yc),
                           line=dict(color=color, width=4)))
    annotations.append(dict(x=px(x0 + 45), y=py(yc), xref="paper", yref="paper",
                            text=name, showarrow=False, xanchor="left", yanchor="middle",
                            font=dict(size=19, color="black")))

fig.update_layout(
    width=W, height=H,
    margin=dict(l=PL - OFF, r=0, t=PT - OFF, b=H - (PB - OFF)),
    paper_bgcolor="white", plot_bgcolor="white",
    font=dict(family=FONT, color="black"),
    showlegend=False,
    annotations=annotations,
    shapes=shapes,
)

fig.update_xaxes(
    range=[0.46, 364.5],
    tickmode="array", tickvals=tick_days, ticktext=[str(d) for d in tick_days],
    tickangle=-90, tickfont=dict(size=16),
    ticks="outside", ticklen=5, tickcolor="#868686",
    minor=dict(ticks="outside", ticklen=5, tickcolor="#868686", dtick=1, tick0=1, showgrid=False),
    showline=True, linecolor="#868686", linewidth=1,
    showgrid=False, zeroline=False,
)
fig.update_yaxes(
    range=[0, 12000],
    tickmode="array", tickvals=y_ticks, ticktext=y_labels,
    tickfont=dict(size=17), ticklabelstandoff=10, ticklabeloverflow="allow",
    ticks="outside", ticklen=6, tickcolor="#868686",
    showline=True, linecolor="#868686", linewidth=1,
    showgrid=False, zeroline=False,
)

fig.write_html("out.html")
